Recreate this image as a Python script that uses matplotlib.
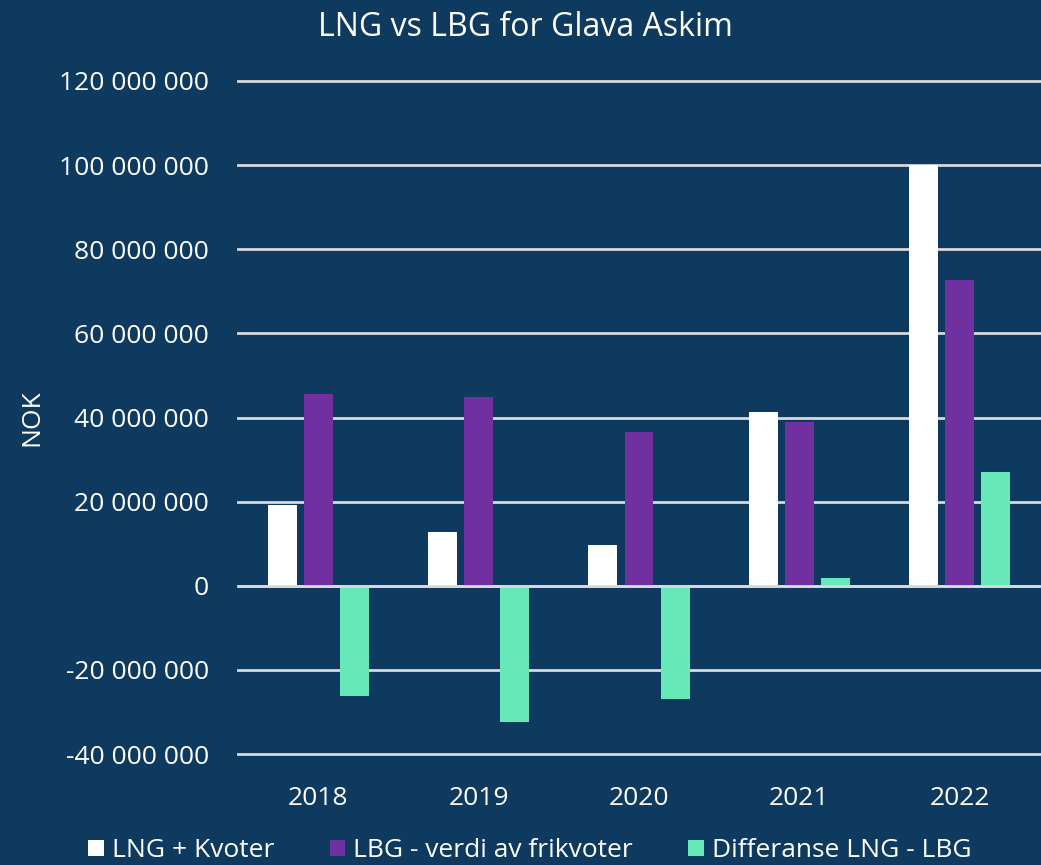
import numpy as np
import matplotlib
matplotlib.use('Agg')
import matplotlib.pyplot as plt
from matplotlib.ticker import FuncFormatter

years = ['2018', '2019', '2020', '2021', '2022']
lng_kvoter = [19.3e6, 12.7e6, 9.8e6, 41.3e6, 100.0e6]
lbg_frikvoter = [45.5e6, 44.9e6, 36.6e6, 39.0e6, 72.8e6]
differanse = [-26.3e6, -32.3e6, -27.0e6, 1.9e6, 27.0e6]

series_names = ['LNG + Kvoter', 'LBG - verdi av frikvoter', 'Differanse LNG - LBG']
series_colors = ['#ffffff', '#7030a0', '#66e8b9']

BG = '#0d3a5e'
FS = 19
plt.rcParams['font.family'] = ['Open Sans', 'DejaVu Sans']

fig = plt.figure(figsize=(10.41, 8.65), dpi=100, facecolor=BG)
ax = fig.add_axes([238 / 1041, 111 / 865, 802 / 1041, 673 / 865])
ax.set_facecolor(BG)

x = np.arange(len(years))
w = 0.18
step = 0.225
for i, (vals, name, col) in enumerate(zip([lng_kvoter, lbg_frikvoter, differanse], series_names, series_colors)):
    ax.bar(x + (i - 1) * step, vals, w, color=col, label=name, zorder=3)

ax.set_xlim(-0.5, len(years) - 0.5)
ax.set_ylim(-40e6, 120e6)
ax.set_yticks(np.arange(-40e6, 120e6 + 1, 20e6))
ax.yaxis.set_major_formatter(FuncFormatter(lambda v, p: f'{int(round(v)):,}'.replace(',', ' ')))
ax.set_xticks(x)
ax.set_xticklabels(years)
ax.grid(axis='y', color='#d9d9d9', linewidth=2, zorder=0)
for gl in ax.get_ygridlines():
    gl.set_clip_on(False)
ax.axhline(0, color='#d9d9d9', linewidth=2, zorder=4)
for s in ax.spines.values():
    s.set_visible(False)
ax.tick_params(length=0, colors='white', labelsize=FS)
ax.tick_params(axis='y', pad=21)
ax.tick_params(axis='x', pad=23)

ax.set_ylabel('NOK', color='white', fontsize=FS)
ax.yaxis.set_label_coords(-0.241, 0.5)

fig.text(525 / 1041, 1 - 27 / 865, 'LNG vs LBG for Glava Askim', color='white',
         fontsize=23, ha='center', va='center')

ax.legend(loc='center', bbox_to_anchor=(0.364, -0.144), ncol=3, frameon=False,
          fontsize=FS, labelcolor='white', handlelength=0.6, handleheight=0.6,
          handletextpad=0.3, columnspacing=2.1, borderpad=0)

fig.savefig('out.png', dpi=100, facecolor=BG)
